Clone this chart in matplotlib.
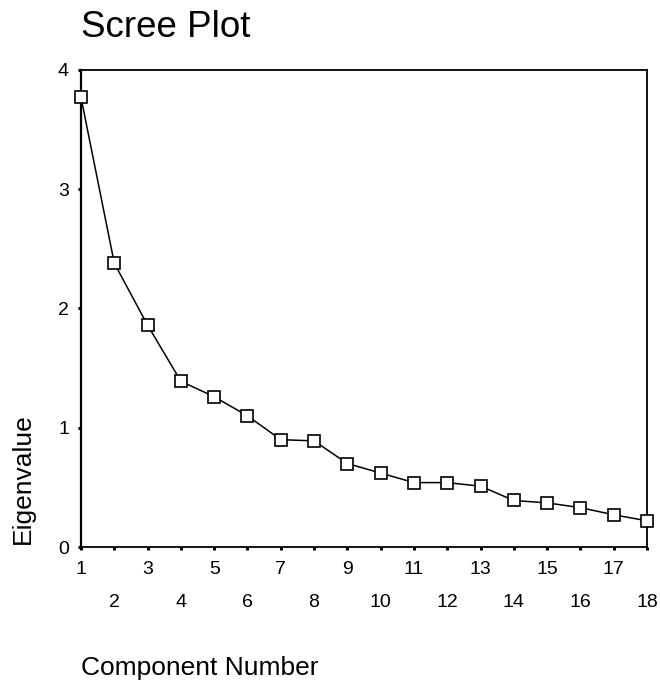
import matplotlib
matplotlib.use("Agg")
import matplotlib.pyplot as plt

plt.rcParams['font.family'] = ['Liberation Sans', 'DejaVu Sans']

components = list(range(1, 19))
eigenvalues = [3.77, 2.38, 1.86, 1.39, 1.26, 1.10, 0.90, 0.89, 0.70, 0.62,
               0.54, 0.54, 0.51, 0.39, 0.37, 0.33, 0.27, 0.22]
y_ticks = [0, 1, 2, 3, 4]
title = "Scree Plot"
x_label = "Component Number"
y_label = "Eigenvalue"

W, H = 660, 682
fig = plt.figure(figsize=(W / 100, H / 100), dpi=100)
L, R, T, B = 81, 647, 70, 547
ax = fig.add_axes([L / W, (H - B) / H, (R - L) / W, (B - T) / H])

ax.plot(components, eigenvalues, color='black', linewidth=1.1,
        marker='s', markersize=8.5, markerfacecolor='white',
        markeredgecolor='black', markeredgewidth=1.2, clip_on=False, zorder=3)

ax.set_xlim(1, 18)
ax.set_ylim(0, 4)

odd = [c for c in components if c % 2 == 1]
even = [c for c in components if c % 2 == 0]
ax.set_xticks(odd)
ax.set_xticklabels([str(c) for c in odd])
ax.set_xticks(even, minor=True)
ax.set_xticklabels([str(c) for c in even], minor=True)
ax.set_yticks(y_ticks)
ax.set_yticklabels([str(v) for v in y_ticks])

ax.tick_params(axis='both', which='both', direction='out', length=2.2,
               width=2.2, color='black', labelsize=14)
ax.tick_params(axis='x', which='major', pad=8)
ax.tick_params(axis='x', which='minor', pad=31.5)
ax.tick_params(axis='y', which='major', pad=6.5)

for side in ['top', 'right', 'bottom']:
    ax.spines[side].set_linewidth(1.3)
ax.spines['left'].set_linewidth(1.6)

ax.set_title(title, loc='left', fontsize=26.5, y=1.0692, pad=0, va='baseline')

ax.set_ylabel(y_label, fontsize=19)
ax.yaxis.label.set_va('center')
ax.yaxis.set_label_coords(-0.1025, 0.1426)

ax.set_xlabel(x_label, fontsize=19)
ax.xaxis.label.set_ha('left')
ax.xaxis.label.set_va('baseline')
ax.xaxis.set_label_coords(0.0, -0.2683)

fig.savefig("out.png", dpi=100)
